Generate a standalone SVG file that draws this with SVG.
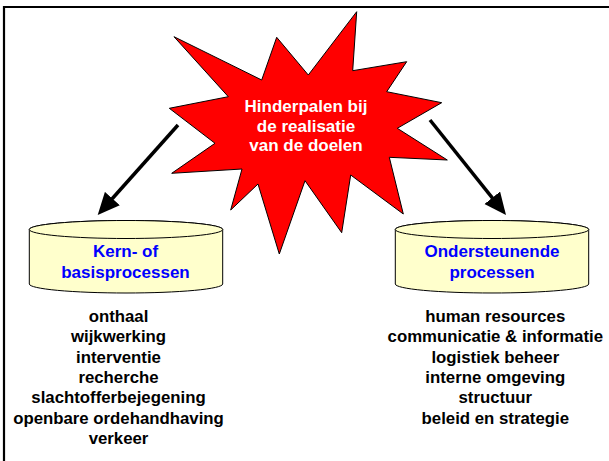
<svg xmlns="http://www.w3.org/2000/svg" width="609" height="461" viewBox="0 0 609 461">
<defs>
<style>
text{font-family:"Liberation Sans",Arial,sans-serif;font-weight:bold;text-anchor:middle}
.star{fill:#FF0000;stroke:#000;stroke-width:1}
.white{fill:#FFFFFF;font-size:17px}
.blue{fill:#0000FF;font-size:17px}
.list{fill:#000;font-size:16.8px}
.cyl{fill:#FFFFCC;stroke:#000;stroke-width:1}
.arrow{stroke:#000;stroke-width:3.5;fill:none}
</style>
<marker id="ah" markerUnits="userSpaceOnUse" markerWidth="23" markerHeight="21" refX="10" refY="10" orient="auto" viewBox="0 0 23 21">
<path d="M0,0 L22,10 L0,20 z" fill="#000"/>
</marker>
</defs>
<rect width="609" height="461" fill="#FFFFFF"/>
<path d="M4,461 V7 H609" fill="none" stroke="#000" stroke-width="2.2"/>

<g id="star">
<polygon class="star" points="174,36.7 261.7,80 276.7,37.3 308.3,75 356.7,11.7 352.7,70.7 406.7,61.7 386.7,91.7 441.7,102.7 397.3,128.3 447.3,160 389.3,157.3 403.3,214 350.7,175 341.7,232.7 305,180.7 279.3,254 258,184 230.7,210 242,169 171.7,173.3 215,143.3 169.3,108.3 228.3,96.7"/>
<text class="white" x="306" y="111.7">Hinderpalen bij</text>
<text class="white" x="306" y="131.5">de realisatie</text>
<text class="white" x="306" y="151.3">van de doelen</text>
</g>

<g id="connectors">
<line class="arrow" x1="178" y1="125" x2="105.7" y2="206" marker-end="url(#ah)"/>
<line class="arrow" x1="430" y1="120" x2="498.5" y2="205.6" marker-end="url(#ah)"/>
</g>

<g id="kern">
<path class="cyl" d="M29.3,229.5 V284 A96.7,9 0 0 0 222.7,284 V229.5 A96.7,9 0 0 0 29.3,229.5 z"/>
<ellipse class="cyl" cx="126" cy="229.5" rx="96.7" ry="9"/>
<text class="blue" x="125.5" y="256.7">Kern- of</text>
<text class="blue" x="125.5" y="277.7">basisprocessen</text>
</g>

<g id="ondersteunend">
<path class="cyl" d="M395.3,229.5 V284 A96.7,9 0 0 0 588.7,284 V229.5 A96.7,9 0 0 0 395.3,229.5 z"/>
<ellipse class="cyl" cx="492" cy="229.5" rx="96.7" ry="9"/>
<text class="blue" x="492" y="257.3">Ondersteunende</text>
<text class="blue" x="492" y="278.3">processen</text>
</g>

<g id="kern-list">
<text class="list" x="118.5" y="321.7">onthaal</text>
<text class="list" x="118.5" y="342">wijkwerking</text>
<text class="list" x="118.5" y="362.5">interventie</text>
<text class="list" x="118.5" y="382.9">recherche</text>
<text class="list" x="118.5" y="403.2">slachtofferbejegening</text>
<text class="list" x="118.5" y="423.5">openbare ordehandhaving</text>
<text class="list" x="118.5" y="443.8">verkeer</text>
</g>

<g id="ondersteunend-list">
<text class="list" x="495.3" y="321.7">human resources</text>
<text class="list" x="495.3" y="342">communicatie &amp; informatie</text>
<text class="list" x="495.3" y="362.5">logistiek beheer</text>
<text class="list" x="495.3" y="382.9">interne omgeving</text>
<text class="list" x="495.3" y="403.2">structuur</text>
<text class="list" x="495.3" y="423.5">beleid en strategie</text>
</g>
</svg>
